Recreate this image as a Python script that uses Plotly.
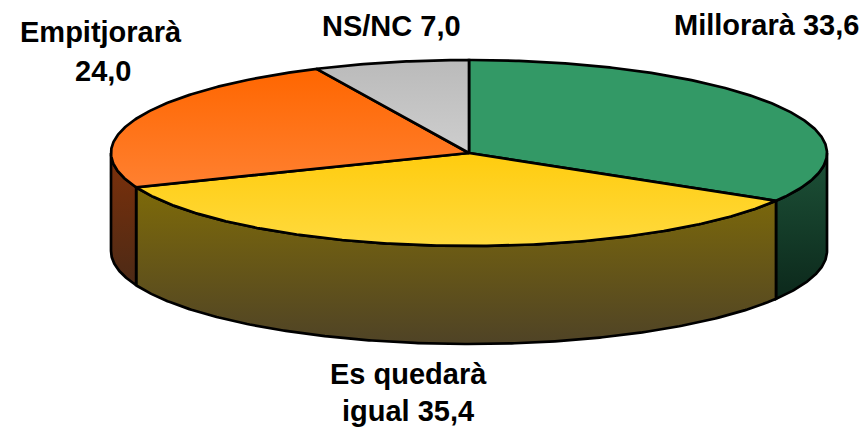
import numpy as np
import plotly.graph_objects as go

# Data
categories = ["Millorarà", "Es quedarà igual", "Empitjorarà", "NS/NC"]
values = [33.6, 35.4, 24.0, 7.0]
label_lines = [
    ("Millorarà 33,6", 766, 25),
    ("Es quedarà", 408, 374),
    ("igual 35,4", 408, 411),
    ("Empitjorarà", 101, 32),
    ("24,0", 103, 71),
    ("NS/NC 7,0", 391, 26),
]

# Top-face gradient (top, bottom) and side gradient (top, bottom) per slice
top_colors = [("#339966", "#339966"), ("#ffcc0e", "#ffda3e"), ("#ff6600", "#ff8030"), ("#bababa", "#cecece")]
side_colors = [("#1d5238", "#0c281b"), ("#7f6b08", "#4f4326"), ("#7d300a", "#4c2a16"), ("#555555", "#333333")]

# Pie geometry in the page's pixel scale
CX, CY, RX, RY, DEPTH = 469.0, 153.0, 358.0, 93.0, 98.0
LW = 2.7


def ell(theta):
    t = np.radians(theta)
    return CX + RX * np.sin(t), CY - RY * np.cos(t)


def arc(a, b):
    n = max(2, int(abs(b - a) * 2) + 1)
    return np.linspace(a, b, n)


def grad(c0, c1, y0, y1):
    return dict(type="vertical", colorscale=[[0, c0], [1, c1]], start=y0, stop=y1)


fig = go.Figure()
edges = np.cumsum([0.0] + values) / sum(values) * 360.0

# Visible side walls (front half of the ellipse)
for i in range(len(values)):
    a, b = max(edges[i], 90.0), min(edges[i + 1], 270.0)
    if b <= a:
        continue
    x, y = ell(arc(a, b))
    px = np.concatenate([x, x[::-1], x[:1]])
    py = np.concatenate([y, y[::-1] + DEPTH, y[:1]])
    if i == 1:
        y0, y1 = CY + 30, CY + RY + DEPTH
    else:
        y0, y1 = float(y.min()), float(y.max()) + DEPTH
    fig.add_trace(go.Scatter(
        x=px, y=py, mode="lines", fill="toself", hoverinfo="skip", showlegend=False,
        line=dict(color="#000000", width=LW),
        fillgradient=grad(side_colors[i][0], side_colors[i][1], y0, y1),
    ))

# Top face wedges
for i, cat in enumerate(categories):
    x, y = ell(arc(edges[i], edges[i + 1]))
    px = np.concatenate([[CX], x, [CX]])
    py = np.concatenate([[CY], y, [CY]])
    fig.add_trace(go.Scatter(
        x=px, y=py, mode="lines", fill="toself", name=cat, showlegend=False,
        line=dict(color="#000000", width=LW),
        fillgradient=grad(top_colors[i][0], top_colors[i][1], float(py.min()), float(py.max())),
    ))

for text, lx, ly in label_lines:
    fig.add_annotation(
        x=lx, y=ly, text=f"<b>{text}</b>", showarrow=False, xanchor="center", yanchor="middle",
        font=dict(family="Liberation Sans, Arial, sans-serif", size=29, color="#000000"),
    )

fig.update_layout(
    width=867, height=427, margin=dict(l=0, r=0, t=0, b=0),
    paper_bgcolor="#ffffff", plot_bgcolor="#ffffff",
    xaxis=dict(range=[0, 867], visible=False, fixedrange=True),
    yaxis=dict(range=[427, 0], visible=False, fixedrange=True),
)
fig.write_html(
    "out.html",
    config={"displayModeBar": False},
    post_script="document.body.style.margin='0';document.documentElement.style.overflow='hidden';",
)
